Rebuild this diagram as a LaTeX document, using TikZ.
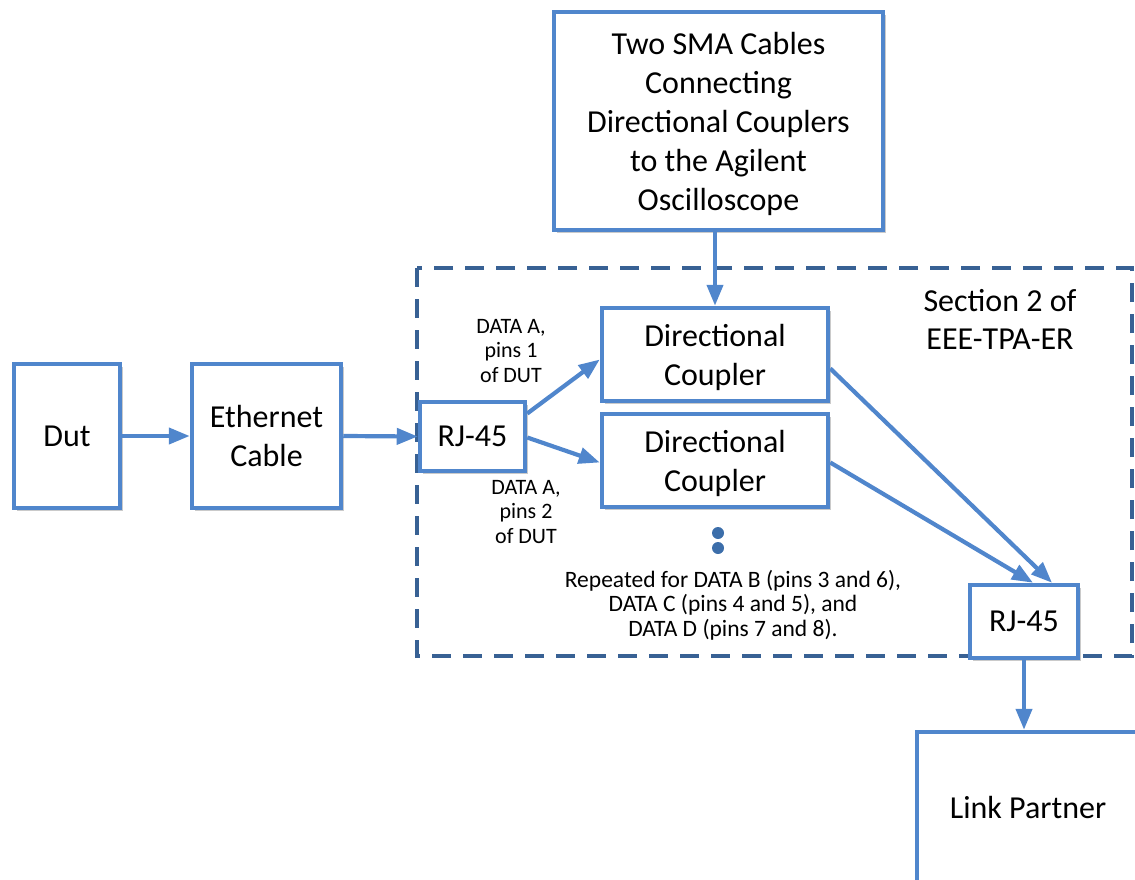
\documentclass[tikz,border=0pt]{standalone}
\usepackage{fontspec}
\setmainfont{Carlito}
\usetikzlibrary{arrows.meta,shadows,calc}
\definecolor{boxblue}{RGB}{80,134,204}
\definecolor{dashblue}{RGB}{56,97,148}
\definecolor{dotblue}{RGB}{60,110,170}
\tikzset{
  box/.style={draw=boxblue, line width=4.5pt, fill=white, align=center,
    inner sep=0pt, font=\fontsize{32}{39}\selectfont,
    drop shadow={shadow xshift=3pt, shadow yshift=-3pt, opacity=0.35, fill=black!60}},
  conn/.style={draw=boxblue, line width=4.2pt, -{Triangle[length=21pt,width=16pt]}},
  smalllabel/.style={align=center, inner sep=0pt, font=\fontsize{22}{24.5}\selectfont},
  replabel/.style={align=center, inner sep=0pt, font=\fontsize{23.5}{24.5}\selectfont},
  biglabel/.style={align=center, inner sep=0pt, font=\fontsize{32}{38}\selectfont},
  sect/.style={draw=dashblue, line width=4pt, dash pattern=on 19pt off 12pt}
}
\begin{document}
\begin{tikzpicture}[x=1pt,y=-1pt]
\useasboundingbox (0,0) rectangle (1135,880);
% dashed section frame
\draw[sect] (417,268) rectangle (1132,656);
% boxes
\node[box, minimum width=106pt, minimum height=144pt] (dut) at (67,436) {Dut};
\node[box, minimum width=149pt, minimum height=144pt] (eth) at (266.5,436) {Ethernet\\Cable};
\node[box, minimum width=105pt, minimum height=69pt] (rja) at (472.5,436.5) {RJ-45};
\node[box, minimum width=226pt, minimum height=93pt] (dca) at (715,354.5) {\rule{0pt}{28pt}Directional\\Coupler};
\node[box, minimum width=226pt, minimum height=93pt] (dcb) at (715,460.5) {\rule{0pt}{28pt}Directional\\Coupler};
\node[box, minimum width=329pt, minimum height=218pt] (sma) at (718.5,121) {\rule{0pt}{28pt}Two SMA Cables\\Connecting\\Directional Couplers\\to the Agilent\\Oscilloscope};
\node[box, minimum width=108pt, minimum height=73pt] (rjb) at (1024,621.5) {RJ-45};
\node[box, minimum width=222pt, minimum height=150pt] (lp) at (1028,807) {Link Partner};
% labels
\node[biglabel] (sec) at (1000,319) {Section 2 of\\EEE-TPA-ER};
\node[smalllabel] (la) at (511,351) {DATA A,\\pins 1\\of DUT};
\node[smalllabel] (lb) at (526,512) {DATA A,\\pins 2\\of DUT};
\node[replabel] (rep) at (733,605) {Repeated for DATA B (pins 3 and 6),\\DATA C (pins 4 and 5), and\\DATA D (pins 7 and 8).};
% dots
\fill[dotblue] (718,533) circle (6pt) coordinate (dota);
\fill[dotblue] (718,548) circle (6pt) coordinate (dotb);
% connectors
\draw[conn] (dut.east) -- (eth.west);
\draw[conn] (eth.east) -- (rja.west);
\draw[conn] (sma.south -| dca.north) -- (dca.north);
\draw[conn] ([yshift=23pt]rja.east) -- ([yshift=-5pt]dca.west);
\draw[conn] ([yshift=-1pt]rja.east) -- ([yshift=-2pt]dcb.west);
\draw[conn] ([yshift=-14pt]dca.east) -- ([xshift=28pt]rjb.north);
\draw[conn] ([yshift=-2pt]dcb.east) -- ([xshift=9pt]rjb.north);
\draw[conn] (rjb.south) -- (rjb.south |- lp.north);
\end{tikzpicture}
\end{document}
